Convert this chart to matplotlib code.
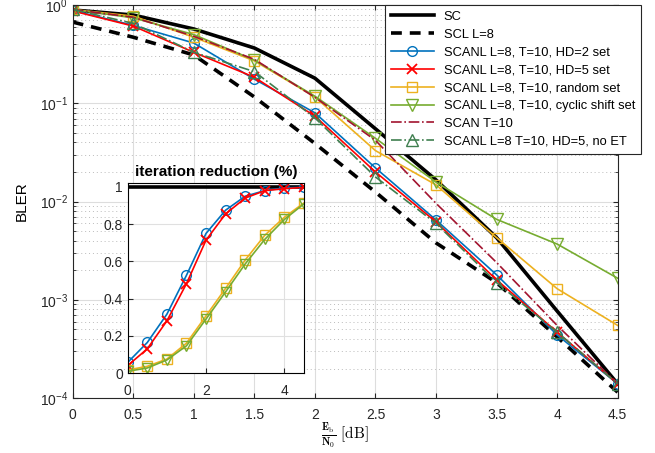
import numpy as np
import matplotlib
matplotlib.use("Agg")
from matplotlib import pyplot as plt

plt.rcParams['font.family'] = ['Liberation Sans', 'DejaVu Sans']
plt.rcParams['mathtext.fontset'] = 'cm'

# ---- data ----
ebn0 = [0, 0.5, 1, 1.5, 2, 2.5, 3, 3.5, 4, 4.5]

sc = [0.89, 0.79, 0.57, 0.365, 0.18, 0.055, 0.0166, 0.0043, 7.7e-4, 1.4e-4]
scl = [0.67, 0.47, 0.31, 0.116, 0.039, 0.0125, 0.0038, 0.0015, 4.2e-4, 1.15e-4]
hd2 = [0.88, 0.62, 0.41, 0.176, 0.080, 0.022, 0.0065, 0.0018, 4.4e-4, 1.4e-4]
hd5 = [0.87, 0.61, 0.33, 0.184, 0.074, 0.020, 0.0062, 0.0016, 4.7e-4, 1.4e-4]
rnd = [0.90, 0.77, 0.47, 0.27, 0.116, 0.033, 0.0148, 0.0043, 0.0013, 5.5e-4]
cyc = [0.90, 0.74, 0.50, 0.275, 0.118, 0.044, 0.0158, 0.0066, 0.0037, 0.00166]
scan = [0.90, 0.75, 0.48, 0.28, 0.115, 0.042, 0.0096, 0.0024, 5.5e-4, 1.4e-4]
noet = [0.90, 0.65, 0.33, 0.21, 0.071, 0.0178, 0.0060, 0.0015, 4.7e-4, 1.4e-4]

# iteration reduction (inset)
red_x = [0, 0.5, 1, 1.5, 2, 2.5, 3, 3.5, 4, 4.5]
red_sc = [1, 1, 1, 1, 1, 1, 1, 1, 1, 1]
red_hd2 = [0.057, 0.164, 0.316, 0.525, 0.75, 0.875, 0.95, 0.98, 0.995, 0.998]
red_hd5 = [0.04, 0.13, 0.28, 0.48, 0.714, 0.855, 0.94, 0.98, 0.99, 0.998]
red_rnd = [0.016, 0.036, 0.075, 0.16, 0.307, 0.455, 0.607, 0.74, 0.837, 0.914]
red_cyc = [0.009, 0.027, 0.07, 0.146, 0.29, 0.436, 0.586, 0.718, 0.825, 0.909]

blue = '#0072BD'
red = '#FF0000'
yellow = '#EDB120'
green = '#77AC30'
darkred = '#A2142F'
darkgreen = '#3F7F4F'

fig = plt.figure(figsize=(6.55, 4.53), dpi=100)
ax = fig.add_axes([0.111, 0.121, 0.832, 0.868])

ax.plot(ebn0, sc, color='k', lw=2.6, label='SC')
ax.plot(ebn0, scl, color='k', lw=2.6, ls=(0, (3, 2.2)), label='SCL L=8')
ax.plot(ebn0, hd2, color=blue, lw=1.2, marker='o', ms=7, mfc='none', label='SCANL L=8, T=10, HD=2 set')
ax.plot(ebn0, hd5, color=red, lw=1.2, marker='x', ms=7, mew=1.3, label='SCANL L=8, T=10, HD=5 set')
ax.plot(ebn0, rnd, color=yellow, lw=1.2, marker='s', ms=7, mfc='none', label='SCANL L=8, T=10, random set')
ax.plot(ebn0, cyc, color=green, lw=1.2, marker='v', ms=8, mfc='none', label='SCANL L=8, T=10, cyclic shift set')
ax.plot(ebn0, scan, color=darkred, lw=1.2, ls='-.', label='SCAN T=10')
ax.plot(ebn0, noet, color=darkgreen, lw=1.2, ls='-.', marker='^', ms=8, mfc='none', label='SCANL L=8 T=10, HD=5, no ET')

ax.set_yscale('log')
ax.set_xlim(0, 4.5)
ax.set_ylim(1e-4, 1)
ax.set_xticks(np.arange(0, 4.51, 0.5))
ax.set_xticklabels(['0', '0.5', '1', '1.5', '2', '2.5', '3', '3.5', '4', '4.5'])
ax.grid(True, which='major', color='#dddddd', lw=0.8)
ax.grid(True, which='minor', axis='y', color='#bbbbbb', ls=(0, (1, 3)), lw=0.7)
ax.tick_params(which='both', direction='in', top=True, right=True, labelsize=10, colors='#262626')
ax.tick_params(axis='x', pad=7)
for s in ax.spines.values():
    s.set_color('#262626')
ax.set_ylabel('BLER', fontsize=11, labelpad=8)
ax.set_xlabel(r'$\frac{\mathbf{E}_\mathrm{b}}{\mathbf{N}_0}\ \mathrm{[dB]}$', fontsize=11, labelpad=0)

leg = ax.legend(loc='upper right', bbox_to_anchor=(1.043, 1.0), borderaxespad=0,
                fontsize=9.3, handlelength=3.3, labelspacing=0.45, borderpad=0.45,
                fancybox=False, framealpha=1, edgecolor='#262626')
leg.get_frame().set_linewidth(0.8)

# ---- inset ----
ins = fig.add_axes([0.195, 0.1766, 0.269, 0.419])
ins.plot(red_x, red_sc, color='k', lw=2.6)
ins.plot(red_x, red_hd2, color=blue, lw=1.2, marker='o', ms=7, mfc='none')
ins.plot(red_x, red_hd5, color=red, lw=1.2, marker='x', ms=7, mew=1.3)
ins.plot(red_x, red_rnd, color=yellow, lw=1.2, marker='s', ms=7, mfc='none')
ins.plot(red_x, red_cyc, color=green, lw=1.2, marker='v', ms=7, mfc='none')
ins.set_xlim(0, 4.5)
ins.set_ylim(0, 1.02)
ins.set_xticks([0, 2, 4])
ins.set_yticks([0, 0.2, 0.4, 0.6, 0.8, 1])
ins.set_yticklabels(['0', '0.2', '0.4', '0.6', '0.8', '1'])
ins.grid(True, color='#e0e0e0', lw=0.8)
ins.tick_params(direction='in', labelsize=10, colors='#262626')
ins.tick_params(axis='x', pad=8)
for s in ins.spines.values():
    s.set_color('k')
ins.set_title('iteration reduction (%)', fontsize=11, fontweight='bold', pad=5)

fig.savefig('out.png', dpi=100)
